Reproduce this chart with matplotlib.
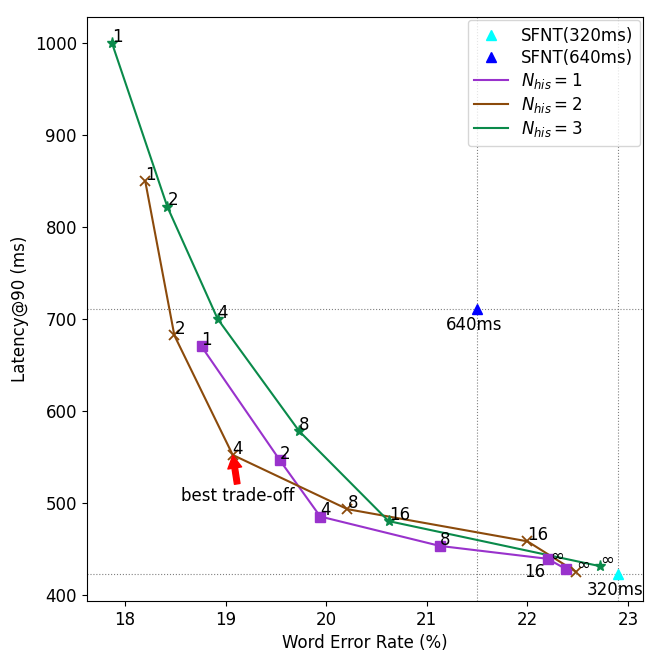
import numpy as np
import matplotlib
matplotlib.use('Agg')
import matplotlib.pyplot as plt

# ================================
labels = ['1', '2', '4', '8', '16', '∞']

wer_his1 = [18.76, 19.54, 19.94, 21.13, 22.20, 22.38]
lat_his1 = [670, 546, 485, 453, 439, 428]

wer_his2 = [18.20, 18.49, 19.07, 20.21, 22.00, 22.48]
lat_his2 = [850, 682, 552, 493, 458, 425]

wer_his3 = [17.87, 18.42, 18.92, 19.73, 20.62, 22.72]
lat_his3 = [1000, 822, 700, 578, 480, 431]

sfnt320 = (22.90, 422)
sfnt640 = (21.50, 711)

c1 = '#9932CC'
c2 = '#8B4A0B'
c3 = '#0A8A4A'

plt.rcParams['font.size'] = 12
fig = plt.figure(figsize=(6.64, 6.64), dpi=100)
ax = fig.add_axes([0.1306, 0.0949, 0.8382, 0.8801])

ax.axvline(sfnt640[0], color='gray', ls=':', lw=0.8)
ax.axvline(sfnt320[0], color='gray', ls=':', lw=0.8)
ax.axhline(sfnt640[1], color='gray', ls=':', lw=0.8)
ax.axhline(sfnt320[1], color='gray', ls=':', lw=0.8)

ax.plot(sfnt320[0], sfnt320[1], '^', color='cyan', ms=7, ls='none', label='SFNT(320ms)')
ax.plot(sfnt640[0], sfnt640[1], '^', color='blue', ms=7, ls='none', label='SFNT(640ms)')

ax.plot(wer_his1, lat_his1, color=c1, lw=1.5, label=r'$N_{his}=1$')
ax.plot(wer_his2, lat_his2, color=c2, lw=1.5, label=r'$N_{his}=2$')
ax.plot(wer_his3, lat_his3, color=c3, lw=1.5, label=r'$N_{his}=3$')
ax.plot(wer_his1, lat_his1, 's', color=c1, ms=7)
ax.plot(wer_his2, lat_his2, 'x', color=c2, ms=7, mew=1.3)
ax.plot(wer_his3, lat_his3, '*', color=c3, ms=8)

for i in range(len(labels)):
    if i == 4:
        ax.annotate(labels[i], (wer_his1[i], lat_his1[i]), xytext=(-2, -3),
                    textcoords='offset points', ha='right', va='top')
    elif i == 5:
        ax.annotate(labels[i], (wer_his1[i], lat_his1[i]), xytext=(-1, 3),
                    textcoords='offset points', ha='right', va='bottom')
    else:
        ax.annotate(labels[i], (wer_his1[i], lat_his1[i]), xytext=(0, 1),
                    textcoords='offset points')
    ax.annotate(labels[i], (wer_his2[i], lat_his2[i]), xytext=(0, 1),
                textcoords='offset points')
    ax.annotate(labels[i], (wer_his3[i], lat_his3[i]), xytext=(0, 1),
                textcoords='offset points')

ax.annotate('640ms', sfnt640, xytext=(-2, -5), textcoords='offset points', ha='center', va='top')
ax.annotate('320ms', sfnt320, xytext=(-2, -5), textcoords='offset points', ha='center', va='top')

ax.annotate('best trade-off', xy=(wer_his2[2], lat_his2[2]), xytext=(19.12, 507),
            ha='center', va='center',
            arrowprops=dict(facecolor='red', edgecolor='red', width=4, headwidth=10,
                            headlength=9, shrink=0.02))

ax.set_xlabel('Word Error Rate (%)')
ax.set_ylabel('Latency@90 (ms)')
ax.legend(loc='upper right', borderaxespad=0.2, labelspacing=0.25)
fig.savefig('out.png')
